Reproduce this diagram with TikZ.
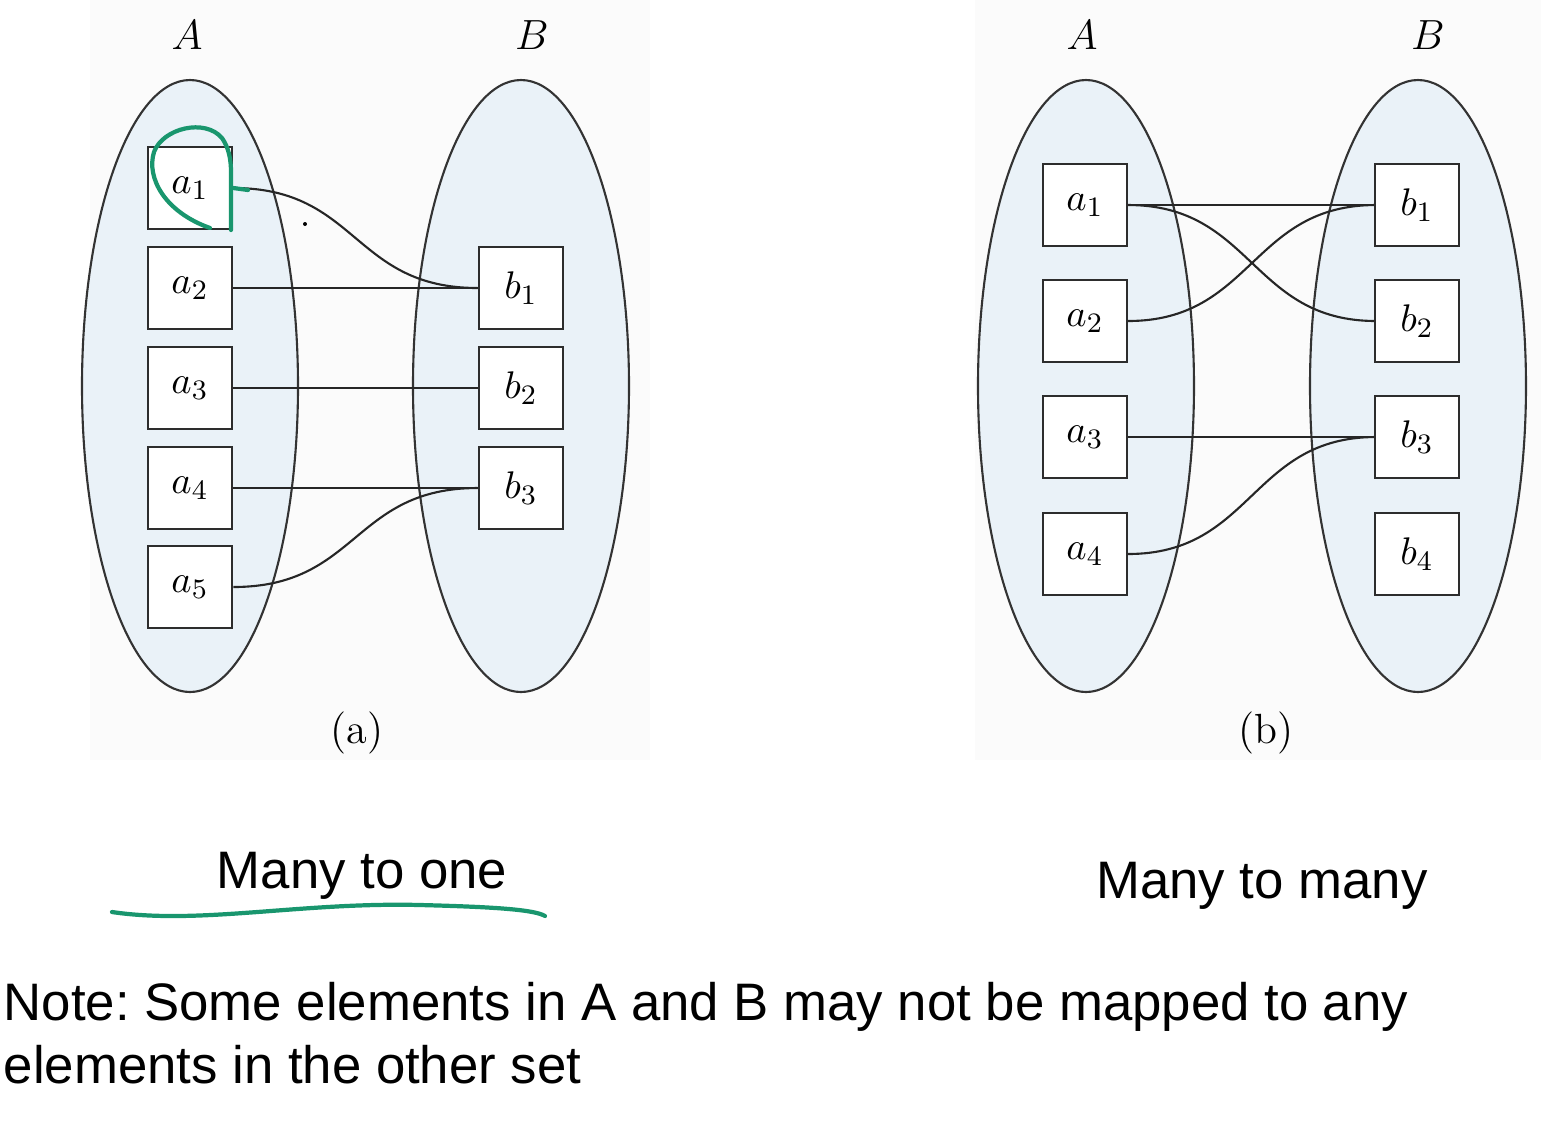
\documentclass[tikz,border=0pt]{standalone}
\usepackage{fontspec}
\setsansfont{Liberation Sans}
\usepackage{xcolor}
\usepackage{tikz}
\definecolor{setfill}{RGB}{234,242,248}
\definecolor{penGreen}{RGB}{25,150,110}
\definecolor{boxline}{RGB}{45,45,45}
\frenchspacing

\begin{document}
\begin{tikzpicture}[x=0.01cm,y=-0.01cm,
  elem/.style={draw=boxline,line width=0.75pt,fill=white,inner sep=0pt,
    minimum width=0.84cm,minimum height=0.82cm,font=\fontsize{11}{13}\selectfont},
  setline/.style={draw=black!80,line width=0.6pt,fill=setfill},
  link/.style={draw=black!85,line width=0.6pt},
  setname/.style={font=\fontsize{13}{15}\selectfont},
  caption/.style={font=\fontsize{12}{14}\selectfont},
  sans/.style={inner sep=0pt,font=\sffamily\fontsize{15}{18}\selectfont},
  pen/.style={draw=penGreen,line width=1.2pt,line cap=round}]
\useasboundingbox (0,0) rectangle (1541,1123);
% 底色
\fill[black!1.5] (90,0) rectangle (650,760);
\fill[black!1.5] (975,0) rectangle (1541,760);
% (a) 两个集合
\filldraw[setline] (190,386) ellipse [x radius=108, y radius=306];
\filldraw[setline] (521,386) ellipse [x radius=108, y radius=306];
\node[setname] (Aa) at (187,35) {$A$};
\node[setname] (Ba) at (532,35) {$B$};
% (a) 元素
\node[elem] (a1) at (190,188) {$a_1$};
\node[elem] (a2) at (190,288) {$a_2$};
\node[elem] (a3) at (190,388) {$a_3$};
\node[elem] (a4) at (190,488) {$a_4$};
\node[elem] (a5) at (190,587) {$a_5$};
\node[elem] (b1) at (521,288) {$b_1$};
\node[elem] (b2) at (521,388) {$b_2$};
\node[elem] (b3) at (521,488) {$b_3$};
% (a) 映射
\draw[link] (a1.east) .. controls +(125,0) and +(-125,0) .. (b1.west);
\draw[link] (a2.east) -- (b1.west);
\draw[link] (a3.east) -- (b2.west);
\draw[link] (a4.east) -- (b3.west);
\draw[link] (a5.east) .. controls +(125,0) and +(-125,0) .. (b3.west);
\fill (305,224) circle (2);
\node[caption] (capa) at (357,733) {(a)};
% 手写标记
\draw[pen] (210,228) .. controls (165,212) and (146,178) .. (154,152)
  .. controls (163,128) and (205,118) .. (222,138)
  .. controls (229,148) and (231,160) .. (231,172) -- (231,230);
\draw[pen] (a1.east) -- (248,190);
% (b) 两个集合
\filldraw[setline] (1086,386) ellipse [x radius=108, y radius=306];
\filldraw[setline] (1418,386) ellipse [x radius=108, y radius=306];
\node[setname] (Ab) at (1082,35) {$A$};
\node[setname] (Bb) at (1428,35) {$B$};
% (b) 映射
\coordinate (p1) at (1128,205);
\coordinate (p2) at (1128,321);
\coordinate (p3) at (1128,437);
\coordinate (p4) at (1128,554);
\coordinate (q1) at (1376,205);
\coordinate (q2) at (1376,321);
\coordinate (q3) at (1376,437);
\draw[link] (p1) -- (q1);
\draw[link] (p1) .. controls +(125,0) and +(-125,0) .. (q2);
\draw[link] (p2) .. controls +(125,0) and +(-125,0) .. (q1);
\draw[link] (p3) -- (q3);
\draw[link] (p4) .. controls +(125,0) and +(-125,0) .. (q3);
% (b) 元素
\node[elem] (c1) at (1085,205) {$a_1$};
\node[elem] (c2) at (1085,321) {$a_2$};
\node[elem] (c3) at (1085,437) {$a_3$};
\node[elem] (c4) at (1085,554) {$a_4$};
\node[elem] (d1) at (1417,205) {$b_1$};
\node[elem] (d2) at (1417,321) {$b_2$};
\node[elem] (d3) at (1417,437) {$b_3$};
\node[elem] (d4) at (1417,554) {$b_4$};
\node[caption] (capb) at (1266,733) {(b)};
% 文字
\node[sans,anchor=base] (m1) at (362,888) {Many to one};
\draw[pen] (112,912) .. controls (200,925) and (300,902) .. (420,905)
  .. controls (500,907) and (535,910) .. (545,916);
\node[sans,anchor=base] (mm) at (1262,898) {Many to many};
\node[sans,anchor=base west] (n1) at (3,1020) {Note: Some elements in A and B may not be mapped to any};
\node[sans,anchor=base west] (n2) at (3,1083) {elements in the other set};
\end{tikzpicture}
\end{document}
